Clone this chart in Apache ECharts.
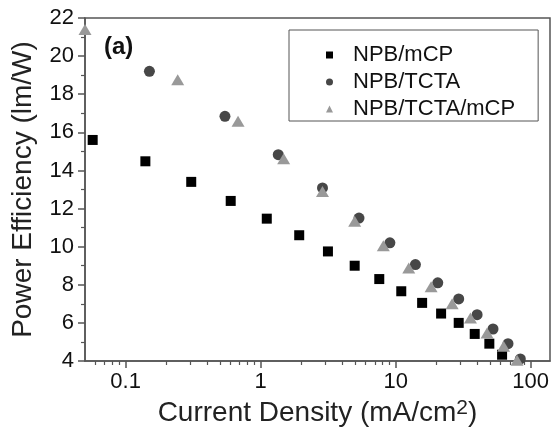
<!DOCTYPE html>
<html>
<head>
<meta charset="utf-8">
<script src="https://cdn.jsdelivr.net/npm/echarts@6/dist/echarts.min.js"></script>
<style>
  html, body { margin: 0; padding: 0; background: #fff; }
  #chart { width: 555px; height: 433px; }
</style>
</head>
<body>
<div id="chart"></div>
<script>
// current density (mA/cm2) and power efficiency (lm/W)
const mcpX = [0.057, 0.14, 0.306, 0.6, 1.11, 1.93, 3.15, 4.97, 7.56, 11.0, 15.7, 21.7, 29.3, 38.5, 49.4, 61.4];
const mcpY = [15.6, 14.48, 13.4, 12.4, 11.47, 10.6, 9.75, 9.0, 8.3, 7.66, 7.05, 6.49, 6.0, 5.42, 4.91, 4.33];

const tctaX = [0.15, 0.544, 1.35, 2.87, 5.35, 9.06, 14.0, 20.5, 29.3, 40.1, 52.6, 67.9, 83.8];
const tctaY = [19.2, 16.84, 14.83, 13.08, 11.5, 10.2, 9.06, 8.1, 7.26, 6.43, 5.68, 4.91, 4.11];

const bothX = [0.05, 0.243, 0.68, 1.48, 2.87, 4.97, 8.1, 12.5, 18.3, 26.2, 35.8, 47.5, 63.0, 79.2];
const bothY = [21.4, 18.76, 16.58, 14.62, 12.9, 11.33, 10.05, 8.88, 7.89, 7.0, 6.26, 5.47, 4.77, 4.04];

const seriesNames = ['NPB/mCP', 'NPB/TCTA', 'NPB/TCTA/mCP'];
const xMajor = [0.1, 1, 10, 100];
const xMinor = [0.06, 0.07, 0.08, 0.09, 0.2, 0.3, 0.4, 0.5, 0.6, 0.7, 0.8, 0.9,
  2, 3, 4, 5, 6, 7, 8, 9, 20, 30, 40, 50, 60, 70, 80, 90];

const pair = (xs, ys) => xs.map((x, i) => [x, ys[i]]);

const axisColor = '#555';
const font = 'Liberation Sans, Arial, sans-serif';

const chart = echarts.init(document.getElementById('chart'));

chart.setOption({
  animation: false,
  textStyle: { fontFamily: font },
  title: {
    text: '(a)',
    left: 99,
    top: 30,
    textStyle: { fontSize: 24, fontWeight: 'bold', color: '#111', fontFamily: font },
  },
  grid: {
    left: 85, top: 18, width: 465, height: 343,
    show: true, borderColor: axisColor, borderWidth: 1.5, backgroundColor: 'transparent',
  },
  legend: {
    orient: 'vertical',
    left: 289,
    top: 30,
    padding: [14, 23, 1, 37],
    borderColor: axisColor,
    borderWidth: 1,
    itemWidth: 7,
    itemHeight: 7,
    itemGap: 5,
    textStyle: { fontSize: 22, color: '#111', fontFamily: font, padding: [0, 0, 0, 15] },
    data: seriesNames,
  },
  xAxis: [
    {
      type: 'log',
      min: 0.05,
      max: 139,
      name: '{n|Current Density (mA/cm}{s|2}{n|)}',
      nameLocation: 'middle',
      nameGap: 35,
      nameTextStyle: {
        color: '#222',
        rich: {
          n: { fontSize: 28, fontFamily: font, color: '#222' },
          s: { fontSize: 21, fontFamily: font, color: '#222', padding: [0, 0, 10, 0] },
        },
      },
      axisLine: { lineStyle: { color: axisColor, width: 1.5 } },
      axisTick: { inside: false, length: 7, customValues: xMajor, lineStyle: { color: axisColor, width: 1.5 } },
      axisLabel: {
        customValues: xMajor,
        margin: 10,
        fontSize: 22,
        color: '#111',
        fontFamily: font,
        formatter: (v) => String(v),
      },
      splitLine: { show: false },
      minorTick: { show: false },
    },
    {
      type: 'log',
      min: 0.05,
      max: 139,
      position: 'bottom',
      axisLine: { show: false },
      axisTick: { inside: false, length: 4, customValues: xMinor, lineStyle: { color: axisColor, width: 1.2 } },
      axisLabel: { show: false },
      splitLine: { show: false },
    },
  ],
  yAxis: {
    type: 'value',
    min: 4,
    max: 22,
    interval: 2,
    name: 'Power Efficiency (lm/W)',
    nameLocation: 'middle',
    nameGap: 48,
    nameTextStyle: { fontSize: 28, color: '#222', fontFamily: font },
    axisLine: { show: true, lineStyle: { color: axisColor, width: 1.5 } },
    axisTick: { show: true, inside: false, length: 7, lineStyle: { color: axisColor, width: 1.5 } },
    minorTick: { show: true, splitNumber: 2, length: 4, lineStyle: { color: axisColor, width: 1.2 } },
    axisLabel: { margin: 11, fontSize: 22, color: '#111', fontFamily: font },
    splitLine: { show: false },
  },
  series: [
    {
      name: seriesNames[0],
      type: 'scatter',
      symbol: 'rect',
      symbolSize: 10,
      itemStyle: { color: '#000', opacity: 1 },
      data: pair(mcpX, mcpY),
      z: 3,
    },
    {
      name: seriesNames[1],
      type: 'scatter',
      symbol: 'circle',
      symbolSize: 11,
      itemStyle: { color: '#474747', opacity: 1 },
      data: pair(tctaX, tctaY),
      z: 2,
    },
    {
      name: seriesNames[2],
      type: 'scatter',
      symbol: 'triangle',
      symbolSize: [13, 11],
      itemStyle: { color: '#999', opacity: 1 },
      data: pair(bothX, bothY),
      z: 4,
    },
  ],
});

window.addEventListener('resize', () => chart.resize());
</script>
</body>
</html>
